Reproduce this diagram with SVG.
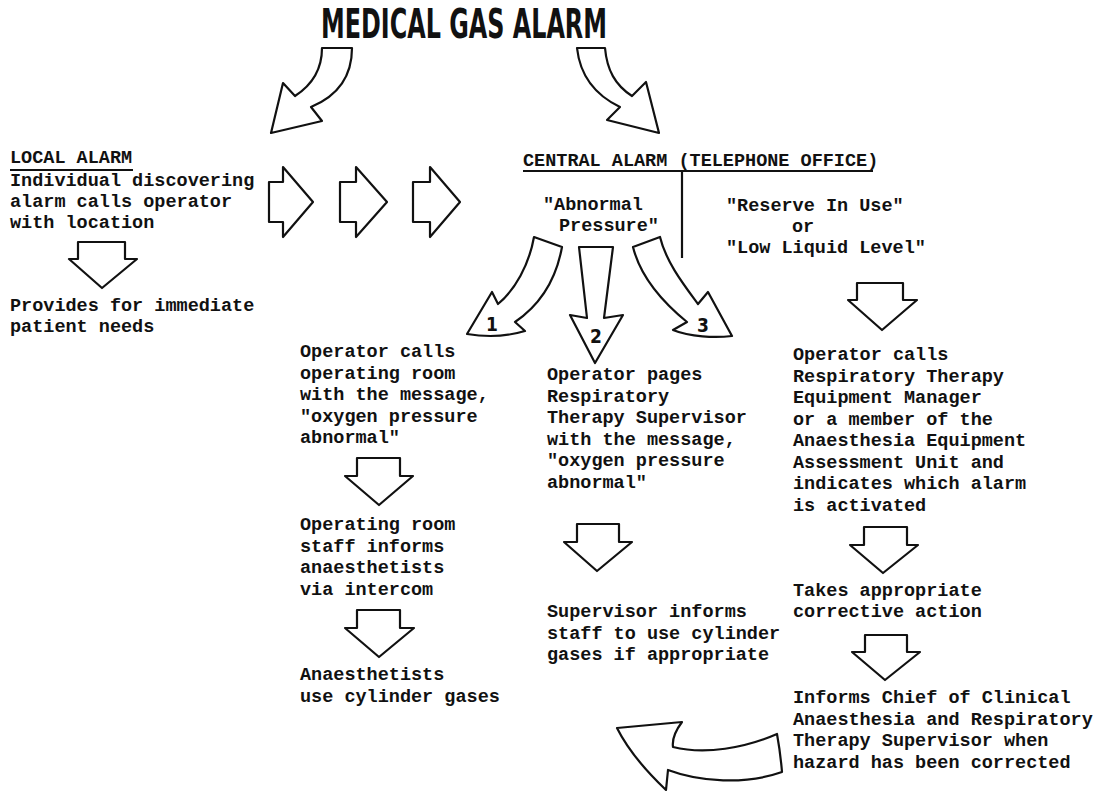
<svg xmlns="http://www.w3.org/2000/svg" width="1099" height="791" viewBox="0 0 1099 791">
<style>
.t{font-family:"Liberation Mono","DejaVu Sans Mono",monospace;font-weight:bold;font-size:18.5px;fill:#111}
.title{font-family:"DejaVu Sans Condensed","Liberation Sans Narrow","Liberation Sans",sans-serif;font-weight:bold;font-size:40px;fill:#111}
.num{font-family:"DejaVu Sans Condensed","Liberation Sans Narrow","Liberation Sans",sans-serif;font-weight:bold;font-size:19px;fill:#111}
.a{fill:#fff;stroke:#111;stroke-width:2.2;stroke-linejoin:round}
.ln{stroke:#111;stroke-width:2.2;fill:none}
</style>
<rect width="1099" height="791" fill="#fff"/>
<g id="title"><text class="title" x="321" y="38" textLength="286" lengthAdjust="spacingAndGlyphs">MEDICAL GAS ALARM</text></g>

<g id="local-alarm">
<text class="t" x="10" y="163">LOCAL ALARM</text>
<line class="ln" x1="10" y1="170" x2="133" y2="170"/>
<text class="t" x="10" y="186">Individual discovering</text>
<text class="t" x="10" y="207">alarm calls operator</text>
<text class="t" x="10" y="228">with location</text>
</g>
<g id="local-result">
<text class="t" x="10" y="311">Provides for immediate</text>
<text class="t" x="10" y="332">patient needs</text>
</g>

<g id="central-alarm">
<text class="t" x="523" y="166">CENTRAL ALARM (TELEPHONE OFFICE)</text>
<line class="ln" x1="523" y1="171" x2="873" y2="171"/>
<line class="ln" x1="682" y1="171" x2="682" y2="258"/>
</g>
<g id="abnormal-pressure">
<text class="t" x="543" y="210">"Abnormal</text>
<text class="t" x="559" y="231">Pressure"</text>
</g>
<g id="reserve">
<text class="t" x="726" y="211">"Reserve In Use"</text>
<text class="t" x="792" y="232">or</text>
<text class="t" x="726" y="253">"Low Liquid Level"</text>
</g>

<g id="path1">
<text class="t" x="300" y="357">Operator calls</text>
<text class="t" x="300" y="378.5">operating room</text>
<text class="t" x="300" y="400">with the message,</text>
<text class="t" x="300" y="421.5">"oxygen pressure</text>
<text class="t" x="300" y="443">abnormal"</text>
</g>
<g id="path1-step2">
<text class="t" x="300" y="530">Operating room</text>
<text class="t" x="300" y="551.5">staff informs</text>
<text class="t" x="300" y="573">anaesthetists</text>
<text class="t" x="300" y="594.5">via intercom</text>
</g>
<g id="path1-step3">
<text class="t" x="300" y="680">Anaesthetists</text>
<text class="t" x="300" y="701.5">use cylinder gases</text>
</g>

<g id="path2">
<text class="t" x="547" y="380">Operator pages</text>
<text class="t" x="547" y="401.5">Respiratory</text>
<text class="t" x="547" y="423">Therapy Supervisor</text>
<text class="t" x="547" y="444.5">with the message,</text>
<text class="t" x="547" y="466">"oxygen pressure</text>
<text class="t" x="547" y="487.5">abnormal"</text>
</g>
<g id="path2-step2">
<text class="t" x="547" y="617">Supervisor informs</text>
<text class="t" x="547" y="638.5">staff to use cylinder</text>
<text class="t" x="547" y="660">gases if appropriate</text>
</g>

<g id="path3">
<text class="t" x="793" y="360">Operator calls</text>
<text class="t" x="793" y="381.5">Respiratory Therapy</text>
<text class="t" x="793" y="403">Equipment Manager</text>
<text class="t" x="793" y="424.5">or a member of the</text>
<text class="t" x="793" y="446">Anaesthesia Equipment</text>
<text class="t" x="793" y="467.5">Assessment Unit and</text>
<text class="t" x="793" y="489">indicates which alarm</text>
<text class="t" x="793" y="510.5">is activated</text>
</g>
<g id="path3-step2">
<text class="t" x="793" y="596">Takes appropriate</text>
<text class="t" x="793" y="617">corrective action</text>
</g>
<g id="path3-step3">
<text class="t" x="793" y="703">Informs Chief of Clinical</text>
<text class="t" x="793" y="724.5">Anaesthesia and Respiratory</text>
<text class="t" x="793" y="746">Therapy Supervisor when</text>
<text class="t" x="793" y="767.5">hazard has been corrected</text>
</g>

<g id="connectors">
<path class="a" d="M322,48 L352,48 C352,75 340,95 311,107 L322,121 L271,133 L283,83 L295,96 C312,85 322,70 322,48 Z"/>
<path class="a" d="M577,48 L605,48 C607,70 615,85 632,96 L646,82 L659,133 L607,120 L620,107 C595,95 580,75 577,48 Z"/>
<path class="a" d="M78,242 L125,242 L125,259 L137,259 L102,288 L69,259 L78,259 Z"/>
<path class="a" d="M269,182 L283,182 L283,167 L313,202 L283,237 L283,222 L269,222 Z"/>
<path class="a" d="M340,182 L356,182 L356,167 L387,202 L356,237 L356,222 L340,222 Z"/>
<path class="a" d="M413,182 L430,182 L430,167 L460,202 L430,237 L430,222 L413,222 Z"/>
<path class="a" d="M534,237 L562,247 C556,280 540,305 515,322 L525,331 C505,337 485,337 467,334 L492,292 L498,304 C515,290 529,265 534,237 Z"/>
<path class="a" d="M579,247 L613,247 L604,318 L623,315 L595,363 L570,315 L587,318 Z"/>
<path class="a" d="M633,247 L660,237 C666,262 684,285 698,304 L708,292 L732,336 C715,338 690,337 673,330 L687,322 C660,300 640,275 633,247 Z"/>
<path class="a" d="M857,283 L903,283 L903,300 L917,300 L882,330 L848,300 L857,300 Z"/>
<path class="a" d="M357,458 L400,458 L400,476 L413,476 L379,505 L345,476 L357,476 Z"/>
<path class="a" d="M357,610 L400,610 L400,628 L414,628 L379,657 L345,628 L357,628 Z"/>
<path class="a" d="M577,524 L619,524 L619,542 L632,542 L597,571 L564,542 L577,542 Z"/>
<path class="a" d="M864,527 L907,527 L907,545 L918,545 L883,573 L850,545 L864,545 Z"/>
<path class="a" d="M865,635 L907,635 L907,652 L920,652 L885,680 L852,652 L865,652 Z"/>
<path class="a" d="M617,728 L682,722 C676,730 672,740 673,747 C705,755 745,748 777,734 C779,745 781,760 782,772 C745,785 700,782 668,770 L666,790 C645,770 628,750 617,728 Z"/>
<text class="num" x="492" y="331" text-anchor="middle">1</text>
<text class="num" x="596" y="343" text-anchor="middle">2</text>
<text class="num" x="703" y="332" text-anchor="middle">3</text>
</g>
</svg>
